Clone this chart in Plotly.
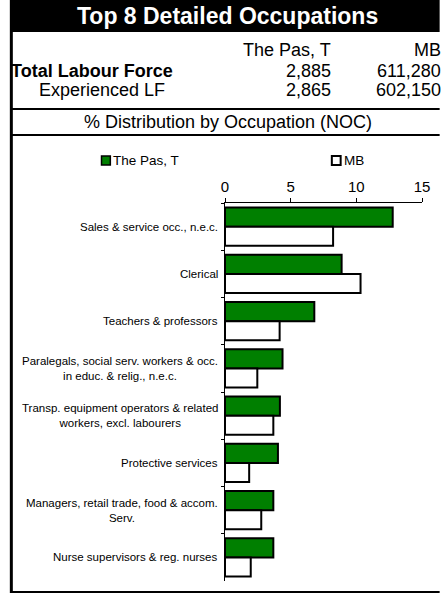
import plotly.graph_objects as go

# Top 8 detailed occupations, % distribution
occupations = [
    "Sales & service occ., n.e.c.",
    "Clerical",
    "Teachers & professors",
    "Paralegals, social serv. workers & occ.<br>in educ. & relig., n.e.c.",
    "Transp. equipment operators & related<br>workers, excl. labourers",
    "Protective services",
    "Managers, retail trade, food & accom.<br>Serv.",
    "Nurse supervisors & reg. nurses",
]
the_pas = [12.77, 8.88, 6.80, 4.38, 4.18, 4.03, 3.68, 3.68]
mb = [8.23, 10.32, 4.16, 2.46, 3.68, 1.84, 2.76, 1.96]

series_names = ["The Pas, T", "MB"]
total_lf = ["2,885", "611,280"]
experienced_lf = ["2,865", "602,150"]
x_ticks = [0, 5, 10, 15]

GREEN = "#007f00"
FONT = "Arial, Liberation Sans, sans-serif"

W, H = 442, 594
ML, MR, MT, MB_ = 225, 16, 203, 13
PW = W - ML - MR
PH = H - MT - MB_


def px(x):
    return (x - ML) / PW


def py(y):
    return (H - MB_ - y) / PH


fig = go.Figure()
fig.add_trace(go.Bar(
    y=occupations, x=the_pas, orientation="h", name=series_names[0],
    marker=dict(color=GREEN, line=dict(color="black", width=2)),
))
fig.add_trace(go.Bar(
    y=occupations, x=mb, orientation="h", name=series_names[1],
    marker=dict(color="white", line=dict(color="black", width=2)),
))


def box(x0, x1, y0, y1, fill, lw=0):
    return dict(type="rect", xref="paper", yref="paper",
                x0=px(x0), x1=px(x1), y0=py(y0), y1=py(y1),
                fillcolor=fill, line=dict(color="black", width=lw))


def rule(x0, x1, y0, y1, lw=2):
    return dict(type="line", xref="paper", yref="paper",
                x0=px(x0), x1=px(x1), y0=py(y0), y1=py(y1),
                line=dict(color="black", width=lw))


shapes = [
    box(6, W + 2, 0, 32, "black"),          # title band
    rule(6, W + 2, 109, 109),               # table rules
    rule(6, W + 2, 135, 135),
    rule(7, 7, 0, 593, lw=3),               # frame
    rule(6, W + 2, 592, 592),
    box(99, 108, 156, 165, GREEN, lw=1.5),  # legend swatches
    box(334, 343, 156, 165, "white", lw=2),
]

ann = []


def text(x, y, s, size=18, xanchor="center", bold=False, color="black"):
    ann.append(dict(
        x=px(x), y=py(y), xref="paper", yref="paper", text=f"<b>{s}</b>" if bold else s,
        showarrow=False, xanchor=xanchor, yanchor="middle",
        font=dict(family=FONT, size=size, color=color),
    ))


text(228, 16, "Top 8 Detailed Occupations", size=23, bold=True, color="white")
text(335, 50, series_names[0], xanchor="right")
text(447, 50, series_names[1], xanchor="right")
text(5, 71, "Total Labour Force", xanchor="left", bold=True)
text(335, 71, total_lf[0], xanchor="right")
text(447, 71, total_lf[1], xanchor="right")
text(33, 90, "Experienced LF", xanchor="left")
text(335, 90, experienced_lf[0], xanchor="right")
text(447, 90, experienced_lf[1], xanchor="right")
text(228, 122, "% Distribution by Occupation (NOC)")
text(109, 161, series_names[0], size=13.5, xanchor="left")
text(344, 161, series_names[1], size=13.5, xanchor="left")

# category labels, centred lines, right edge next to the axis
for occ in occupations:
    ann.append(dict(
        x=0, y=occ, xref="paper", yref="y", text=occ, showarrow=False,
        xanchor="right", yanchor="middle", align="center", xshift=-5,
        font=dict(family=FONT, size=11.5, color="black"),
    ))

fig.update_layout(
    width=W, height=H,
    margin=dict(l=ML, r=MR, t=MT, b=MB_),
    paper_bgcolor="white", plot_bgcolor="white",
    barmode="group", bargap=0.19, bargroupgap=0,
    showlegend=False,
    shapes=shapes, annotations=ann,
    font=dict(family=FONT, color="black"),
    xaxis=dict(
        side="top", range=[0, 15], tickvals=x_ticks, showgrid=False,
        showline=True, linecolor="black", linewidth=1,
        ticks="outside", ticklen=4, tickcolor="black",
        tickfont=dict(size=15), zeroline=False,
    ),
    yaxis=dict(
        autorange="reversed", showticklabels=False, showgrid=False,
        showline=True, linecolor="black", linewidth=1,
        ticks="outside", ticklen=3, tickcolor="black", tickson="boundaries",
    ),
)

fig.write_html(
    "out.html",
    config={"displayModeBar": False},
    post_script=(
        "document.documentElement.style.background='white';"
        "document.body.style.background='white';"
        "document.body.style.margin='0';"
        "document.body.style.overflow='hidden';"
        "document.documentElement.style.overflow='hidden';"
    ),
)
